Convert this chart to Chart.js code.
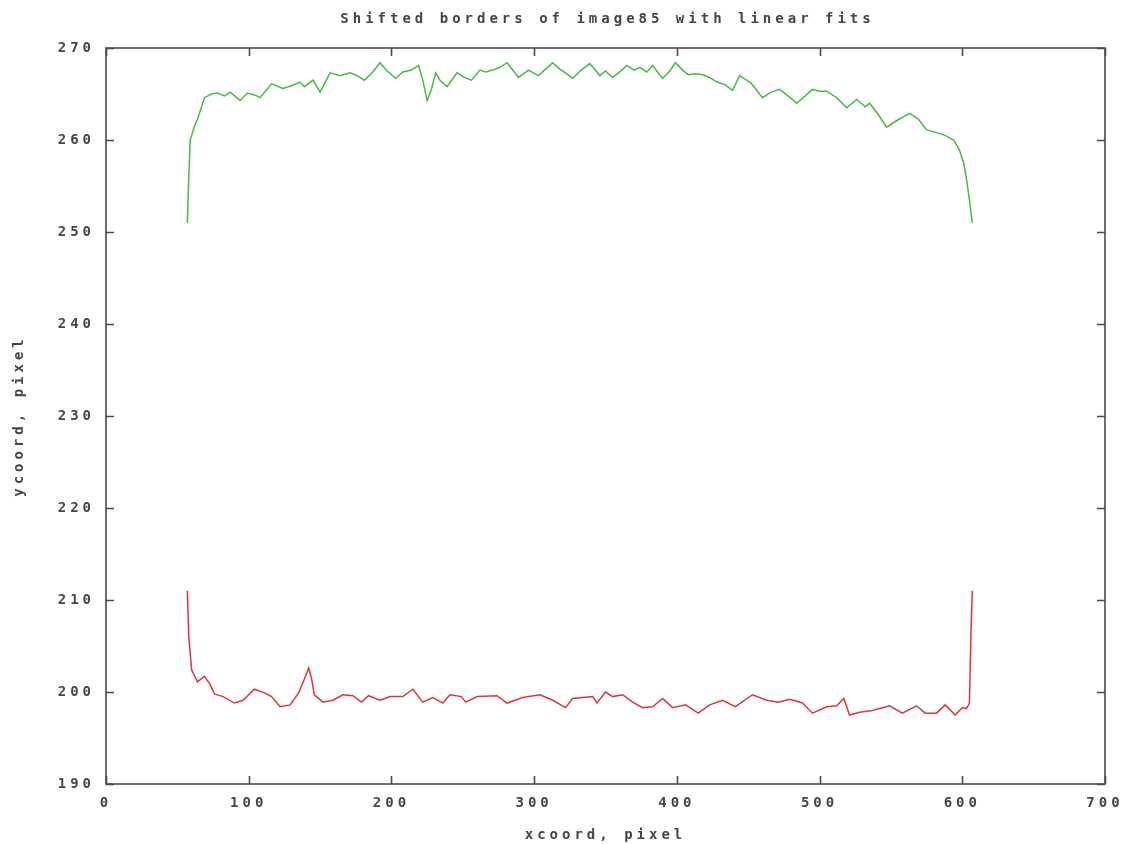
<!DOCTYPE html>
<html>
<head>
<meta charset="utf-8">
<script src="https://cdn.jsdelivr.net/npm/chart.js@4"></script>
<style>
  html, body { margin: 0; padding: 0; background: #fff; }
  #wrap { width: 1135px; height: 844px; }
</style>
</head>
<body>
<div id="wrap"><canvas id="bordersChart"></canvas></div>
<script>
// upper border (green)
const upperX = [57, 58, 59, 62, 64, 69, 74, 78, 83, 87, 94, 99, 104, 108, 116, 124, 130, 136, 139, 145,
  150, 157, 164, 171, 176, 181, 187, 192, 197, 203, 208, 214, 219, 222, 225, 228, 231, 234, 239, 246,
  251, 256, 262, 266, 271, 276, 281, 285, 289, 296, 303, 308, 313, 318, 322, 327, 333, 339, 346, 350,
  355, 360, 365, 370, 374, 379, 383, 390, 395, 399, 404, 408, 413, 418, 423, 428, 434, 439, 444, 452,
  460, 466, 472, 478, 484, 490, 495, 500, 505, 512, 519, 526, 532, 535, 541, 547, 555, 563, 569, 575,
  582, 588, 594, 598, 601, 603, 605, 607]
const upperY = [251, 256, 260, 261.5, 262.2, 264.6, 265, 265.1, 264.8, 265.2, 264.3, 265.1, 264.9, 264.6, 266.1, 265.6, 265.9, 266.3, 265.8, 266.5,
  265.2, 267.3, 267.0, 267.3, 267.0, 266.5, 267.4, 268.4, 267.5, 266.7, 267.4, 267.6, 268.1, 266.5, 264.3, 265.5, 267.3, 266.5, 265.8, 267.3,
  266.8, 266.5, 267.6, 267.4, 267.6, 267.9, 268.4, 267.6, 266.8, 267.6, 267.0, 267.7, 268.4, 267.7, 267.3, 266.7, 267.6, 268.3, 267.0, 267.5,
  266.8, 267.4, 268.1, 267.6, 267.9, 267.4, 268.1, 266.7, 267.5, 268.4, 267.6, 267.1, 267.2, 267.1, 266.8, 266.3, 266.0, 265.4, 267.0, 266.2,
  264.6, 265.2, 265.5, 264.8, 264.0, 264.8, 265.5, 265.3, 265.3, 264.6, 263.5, 264.4, 263.6, 264.0, 262.8, 261.4, 262.2, 262.9, 262.3, 261.1,
  260.8, 260.5, 260.0, 258.9, 257.5, 255.7, 253.5, 251]

// lower border (red)
const lowerX = [57, 58, 60, 64, 69, 73, 76, 82, 90, 96, 104, 111, 116, 122, 129, 135, 140, 142, 144, 146,
  152, 159, 166, 173, 179, 184, 192, 199, 208, 215, 222, 229, 236, 241, 249, 252, 260, 274, 281, 292,
  304, 313, 322, 327, 341, 344, 350, 355, 362, 369, 376, 383, 390, 397, 406, 415, 423, 432, 441, 453,
  463, 471, 479, 488, 495, 505, 512, 517, 521, 528, 537, 549, 558, 568, 574, 582, 588, 595, 600, 603,
  605, 606, 607]
const lowerY = [211.0, 206.0, 202.4, 201.1, 201.7, 200.8, 199.8, 199.5, 198.8, 199.1, 200.3, 199.9, 199.5, 198.4, 198.6, 199.9, 201.8, 202.6, 201.5, 199.7,
  198.9, 199.1, 199.7, 199.6, 198.9, 199.6, 199.1, 199.5, 199.5, 200.3, 198.9, 199.4, 198.8, 199.7, 199.5, 198.9, 199.5, 199.6, 198.8, 199.4,
  199.7, 199.1, 198.3, 199.3, 199.5, 198.8, 200.0, 199.5, 199.7, 198.9, 198.3, 198.4, 199.3, 198.3, 198.6, 197.7, 198.6, 199.1, 198.4, 199.7,
  199.1, 198.9, 199.2, 198.8, 197.7, 198.4, 198.5, 199.3, 197.5, 197.8, 198.0, 198.5, 197.7, 198.5, 197.7, 197.7, 198.6, 197.5, 198.3, 198.2,
  198.8, 206.0, 211.0]

const xTicks = [0, 100, 200, 300, 400, 500, 600, 700]
const yTicks = [190, 200, 210, 220, 230, 240, 250, 260, 270]
const titleText = 'Shifted borders of image85 with linear fits'

const toPoints = (xs, ys) => xs.map((x, i) => ({ x: x, y: ys[i] }))

const frameColor = '#4a4a4a'
const textColor = '#454545'
const monoFont = { family: 'DejaVu Sans Mono', size: 14, weight: 'bold' }
const spacing = '4px'

// gnuplot's terminal font is wide and spaced out
const spacingPlugin = {
  id: 'spacing',
  beforeLayout(chart) { chart.ctx.letterSpacing = spacing },
  beforeDraw(chart) { chart.ctx.letterSpacing = spacing }
}

// title centred over the plot area, like gnuplot does
const plotTitlePlugin = {
  id: 'plotTitle',
  afterDraw(chart) {
    const { ctx, chartArea: a } = chart
    ctx.save()
    ctx.letterSpacing = spacing
    ctx.font = 'bold 14px "DejaVu Sans Mono"'
    ctx.fillStyle = textColor
    ctx.textAlign = 'center'
    ctx.textBaseline = 'middle'
    ctx.fillText(titleText, (a.left + a.right) / 2 + 2, 19)
    ctx.restore()
  }
}

// closed frame with inward ticks on all four sides
const framePlugin = {
  id: 'frame',
  afterDatasetsDraw(chart) {
    const { ctx, chartArea: a, scales } = chart
    const len = 8
    ctx.save()
    ctx.strokeStyle = frameColor
    ctx.lineWidth = 1.6
    ctx.strokeRect(a.left, a.top, a.right - a.left, a.bottom - a.top)
    ctx.beginPath()
    xTicks.forEach((v) => {
      const px = Math.round(scales.x.getPixelForValue(v)) + 0.5
      ctx.moveTo(px, a.bottom); ctx.lineTo(px, a.bottom - len)
      ctx.moveTo(px, a.top); ctx.lineTo(px, a.top + len)
    })
    yTicks.forEach((v) => {
      const py = Math.round(scales.y.getPixelForValue(v)) + 0.5
      ctx.moveTo(a.left, py); ctx.lineTo(a.left + len, py)
      ctx.moveTo(a.right, py); ctx.lineTo(a.right - len, py)
    })
    ctx.stroke()
    ctx.restore()
  }
}

const ctx = document.getElementById('bordersChart').getContext('2d')
new Chart(ctx, {
  type: 'scatter',
  data: {
    datasets: [
      {
        label: 'upper border',
        data: toPoints(upperX, upperY),
        showLine: true,
        borderColor: 'rgb(70, 185, 70)',
        borderWidth: 1.5,
        pointRadius: 0,
        tension: 0
      },
      {
        label: 'lower border',
        data: toPoints(lowerX, lowerY),
        showLine: true,
        borderColor: 'rgb(220, 55, 55)',
        borderWidth: 1.5,
        pointRadius: 0,
        tension: 0
      }
    ]
  },
  options: {
    responsive: true,
    maintainAspectRatio: false,
    animation: false,
    layout: {
      padding: { left: 8, right: 30, top: 48, bottom: 0 }
    },
    plugins: {
      legend: { display: false },
      tooltip: { enabled: false },
      title: { display: false }
    },
    scales: {
      x: {
        type: 'linear',
        min: 0,
        max: 700,
        afterBuildTicks: (scale) => { scale.ticks = xTicks.map((v) => ({ value: v })) },
        afterFit: (scale) => { scale.height = 60 },
        grid: { display: false, drawTicks: false },
        border: { display: false },
        ticks: { color: textColor, font: monoFont, padding: 11, maxRotation: 0 },
        title: {
          display: true,
          text: 'xcoord, pixel',
          color: textColor,
          font: monoFont,
          padding: { top: 4, bottom: 0 }
        }
      },
      y: {
        min: 190,
        max: 270,
        afterBuildTicks: (scale) => { scale.ticks = yTicks.map((v) => ({ value: v })) },
        afterFit: (scale) => { scale.width = 98 },
        grid: { display: false, drawTicks: false },
        border: { display: false },
        ticks: { color: textColor, font: monoFont, padding: 11 },
        title: {
          display: true,
          text: 'ycoord, pixel',
          color: textColor,
          font: monoFont,
          padding: { top: 3, bottom: 0 }
        }
      }
    }
  },
  plugins: [spacingPlugin, framePlugin, plotTitlePlugin]
})
</script>
</body>
</html>
